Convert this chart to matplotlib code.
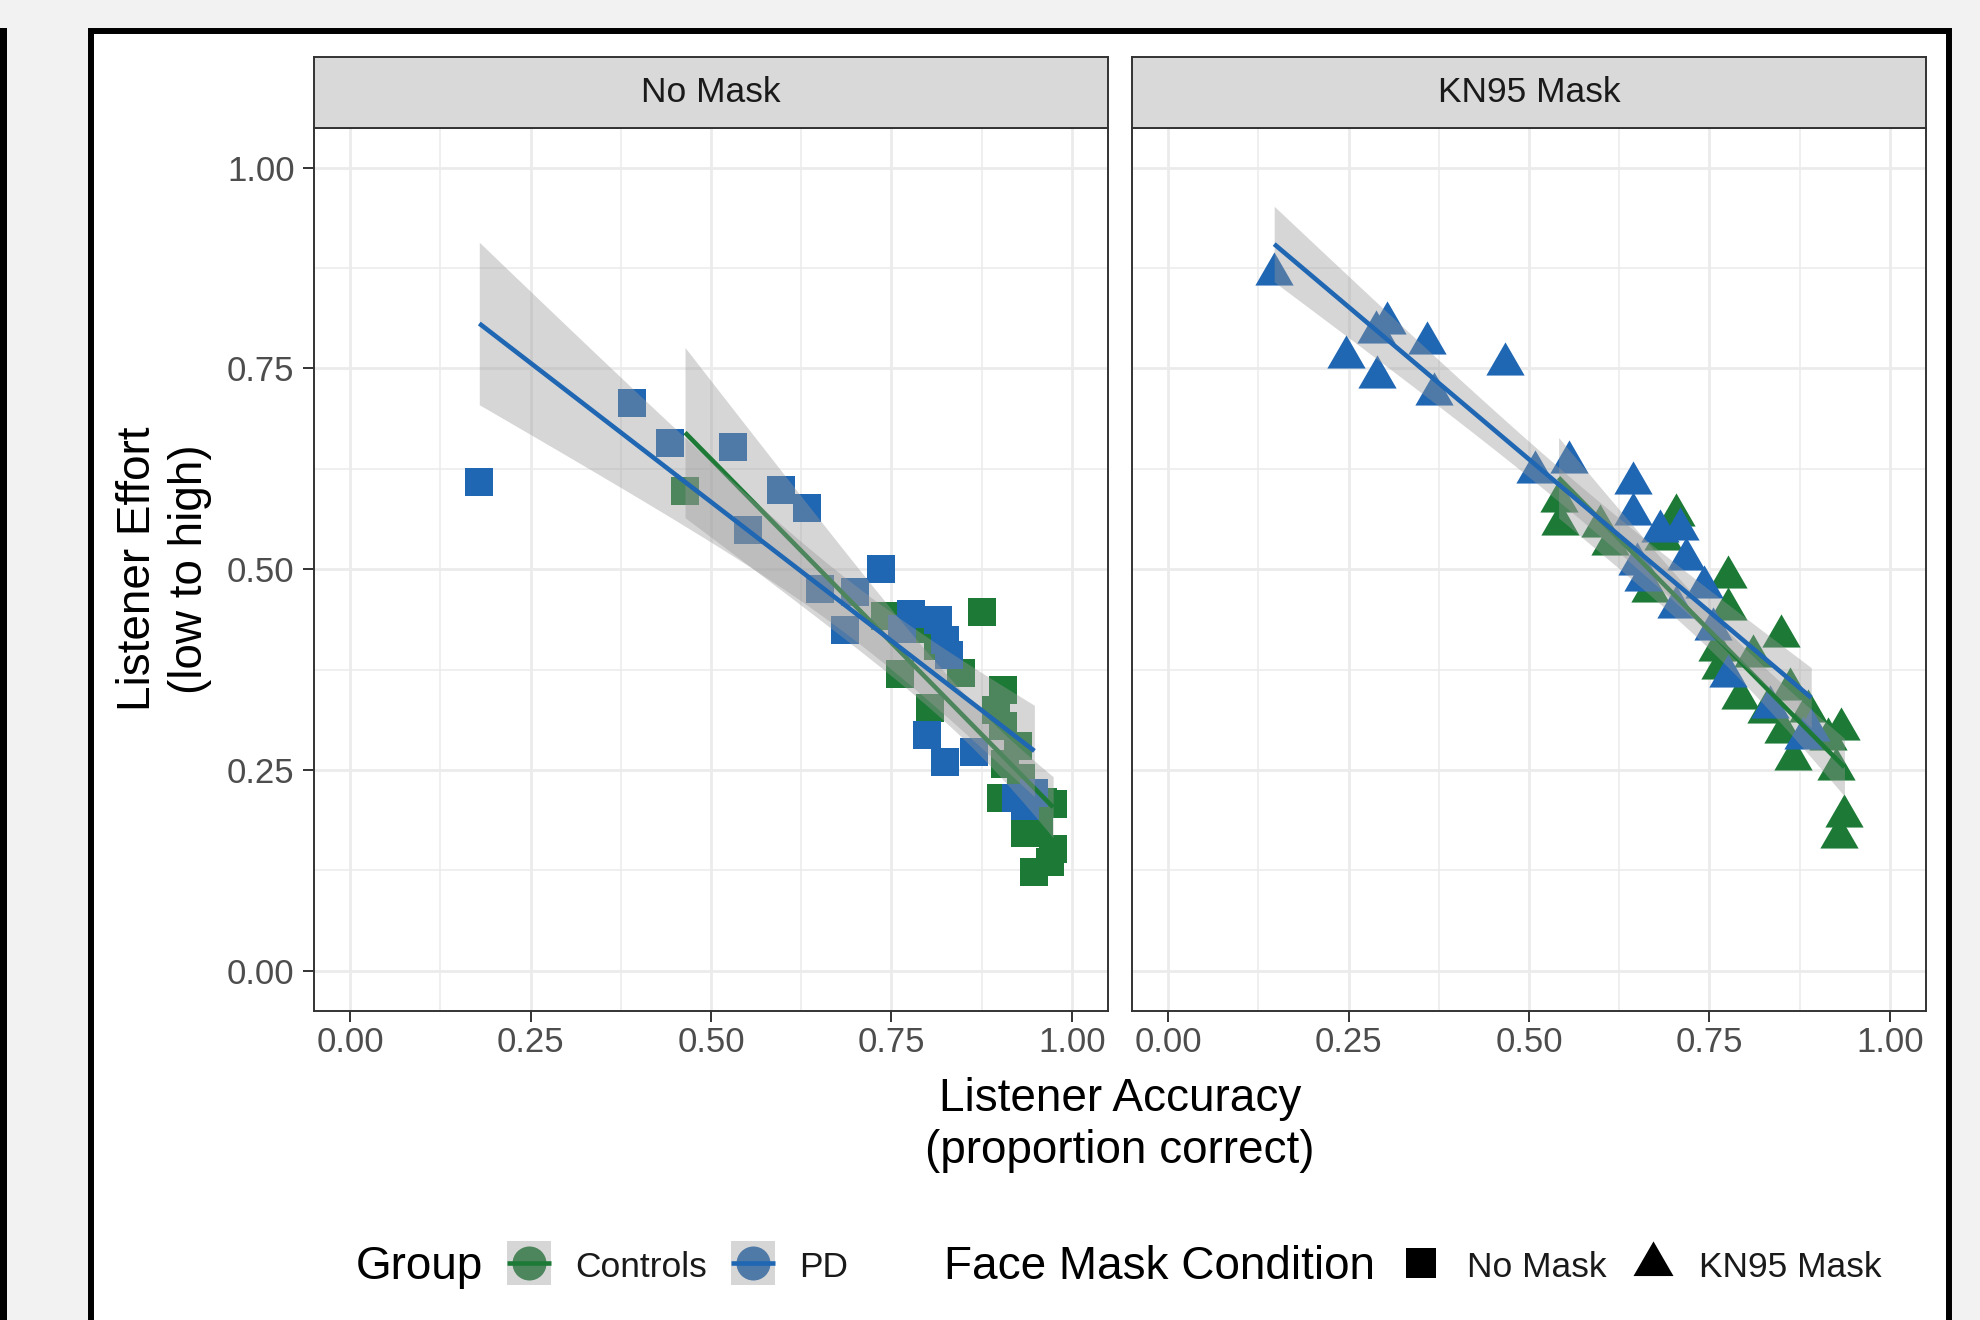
import numpy as np
import matplotlib
matplotlib.use('Agg')
import matplotlib.pyplot as plt
from matplotlib.patches import Rectangle
from matplotlib.path import Path
from matplotlib.markers import MarkerStyle

plt.rcParams['font.family'] = ['Liberation Sans', 'DejaVu Sans']

# ---------------- data ----------------
panel_titles = ['No Mask', 'KN95 Mask']
group_names = ['Controls', 'PD']
group_colors = {'Controls': '#1C7A36', 'PD': '#1F66B3'}

nomask_controls_x = [0.464, 0.741, 0.762, 0.804, 0.847, 0.875, 0.904, 0.895, 0.905, 0.907,
                     0.902, 0.974, 0.935, 0.974, 0.947, 0.969, 0.790, 0.815, 0.930, 0.955,
                     0.960, 0.925]
nomask_controls_y = [0.597, 0.442, 0.370, 0.327, 0.371, 0.447, 0.350, 0.325, 0.305, 0.258,
                     0.215, 0.208, 0.171, 0.152, 0.123, 0.136, 0.425, 0.405, 0.240, 0.180,
                     0.210, 0.280]

nomask_pd_x = [0.179, 0.390, 0.443, 0.531, 0.551, 0.597, 0.633, 0.651, 0.686, 0.699,
               0.736, 0.777, 0.814, 0.824, 0.830, 0.799, 0.824, 0.864, 0.923, 0.948,
               0.765, 0.935]
nomask_pd_y = [0.609, 0.707, 0.657, 0.652, 0.549, 0.599, 0.576, 0.476, 0.424, 0.472,
               0.500, 0.444, 0.437, 0.412, 0.393, 0.294, 0.260, 0.273, 0.215, 0.221,
               0.425, 0.205]

kn95_controls_x = [0.541, 0.543, 0.598, 0.612, 0.668, 0.686, 0.704, 0.760, 0.764, 0.776,
                   0.776, 0.792, 0.811, 0.829, 0.849, 0.852, 0.861, 0.866, 0.886, 0.914,
                   0.932, 0.925, 0.937, 0.930]
kn95_controls_y = [0.585, 0.556, 0.554, 0.532, 0.473, 0.538, 0.567, 0.400, 0.377, 0.490,
                   0.451, 0.340, 0.392, 0.322, 0.417, 0.297, 0.351, 0.264, 0.324, 0.289,
                   0.301, 0.251, 0.193, 0.166]

kn95_pd_x = [0.147, 0.246, 0.288, 0.290, 0.303, 0.358, 0.368, 0.467, 0.508, 0.556,
             0.644, 0.644, 0.649, 0.658, 0.681, 0.704, 0.709, 0.718, 0.742, 0.755,
             0.776, 0.834, 0.880, 0.891]
kn95_pd_y = [0.868, 0.764, 0.795, 0.740, 0.807, 0.782, 0.718, 0.756, 0.621, 0.634,
             0.608, 0.569, 0.506, 0.486, 0.548, 0.453, 0.550, 0.513, 0.478, 0.426,
             0.367, 0.328, 0.290, 0.300]

tick_values = [0.0, 0.25, 0.5, 0.75, 1.0]
tick_labels = ['0.00', '0.25', '0.50', '0.75', '1.00']
minor_values = [0.125, 0.375, 0.625, 0.875]

panel_data = {
    'No Mask': {'Controls': (nomask_controls_x, nomask_controls_y),
                'PD': (nomask_pd_x, nomask_pd_y)},
    'KN95 Mask': {'Controls': (kn95_controls_x, kn95_controls_y),
                  'PD': (kn95_pd_x, kn95_pd_y)},
}

# ---------------- helpers ----------------
def t975(df):
    z = 1.959964
    g1 = (z**3 + z) / 4
    g2 = (5*z**5 + 16*z**3 + 3*z) / 96
    g3 = (3*z**7 + 19*z**5 + 17*z**3 - 15*z) / 384
    return z + g1/df + g2/df**2 + g3/df**3

def lm_band(x, y, n=80):
    x = np.asarray(x); y = np.asarray(y)
    b1, b0 = np.polyfit(x, y, 1)
    xs = np.linspace(x.min(), x.max(), n)
    yh = b0 + b1*xs
    res = y - (b0 + b1*x)
    nn = len(x)
    mse = np.sum(res**2) / (nn - 2)
    sxx = np.sum((x - x.mean())**2)
    se = np.sqrt(mse * (1/nn + (xs - x.mean())**2 / sxx))
    t = t975(nn - 2)
    return xs, yh, yh - t*se, yh + t*se

tri = Path([(0, 0.57735), (-0.5, -0.288675), (0.5, -0.288675), (0, 0.57735)],
           [Path.MOVETO, Path.LINETO, Path.LINETO, Path.CLOSEPOLY])
tri_marker = MarkerStyle(tri)
panel_markers = {'No Mask': ('s', 416), 'KN95 Mask': (tri_marker, 1013)}

# ---------------- figure ----------------
W, H = 1980, 1320
fig = plt.figure(figsize=(W/100, H/100), dpi=100, facecolor='#F2F2F2')

bg = fig.add_axes([0, 0, 1, 1], zorder=0)
bg.set_xlim(0, W); bg.set_ylim(H, 0); bg.axis('off')
bg.add_patch(Rectangle((91, 30.5), 1858, 1400, facecolor='white', edgecolor='black',
                       linewidth=4.3, zorder=0))
bg.add_patch(Rectangle((0, 28), 6.5, 1400, facecolor='black', edgecolor='none', zorder=0))

panel_lefts = [314, 1132]
pw = 794
p_bottom = 1 - 1010.9 / H
p_height = 883.3 / H
s_bottom = 1 - 127.5 / H
s_height = 70.5 / H

for pi, pname in enumerate(panel_titles):
    ax = fig.add_axes([panel_lefts[pi]/W, p_bottom, pw/W, p_height], zorder=2)
    ax.set_xlim(-0.05, 1.05); ax.set_ylim(-0.05, 1.05)
    ax.set_facecolor('white')
    ax.set_xticks(tick_values)
    ax.set_xticklabels(tick_labels)
    ax.set_yticks(tick_values)
    ax.set_xticks(minor_values, minor=True)
    ax.set_yticks(minor_values, minor=True)
    ax.grid(which='major', color='#EBEBEB', linewidth=2.0, zorder=0)
    ax.grid(which='minor', color='#EBEBEB', linewidth=1.1, zorder=0)
    ax.set_axisbelow(True)
    ax.tick_params(which='minor', length=0)
    ax.tick_params(which='major', length=8, width=1.4, color='#333333',
                   labelsize=25, labelcolor='#4D4D4D')
    ax.tick_params(axis='x', pad=3)
    ax.tick_params(axis='y', pad=6)
    if pi == 0:
        ax.set_yticklabels(tick_labels)
    else:
        ax.tick_params(axis='y', which='both', left=False, labelleft=False)
    for sp in ax.spines.values():
        sp.set_color('#333333'); sp.set_linewidth(1.4)

    mk, ms = panel_markers[pname]
    for g in group_names:
        gx, gy = panel_data[pname][g]
        ax.scatter(gx, gy, marker=mk, s=ms, color=group_colors[g], linewidths=0, zorder=2)
    z = 3
    for g in group_names:
        gx, gy = panel_data[pname][g]
        xs, yh, lo, hi = lm_band(gx, gy)
        ax.fill_between(xs, lo, hi, color='#999999', alpha=0.4, linewidth=0, zorder=z)
        ax.plot(xs, yh, color=group_colors[g], linewidth=3.3, zorder=z + 1,
                solid_capstyle='butt')
        z += 2

    sax = fig.add_axes([panel_lefts[pi]/W, s_bottom, pw/W, s_height], zorder=2)
    sax.set_facecolor('#D9D9D9')
    sax.set_xticks([]); sax.set_yticks([])
    for sp in sax.spines.values():
        sp.set_color('#333333'); sp.set_linewidth(1.4)
    sax.text(0.5, 0.5, pname, ha='center', va='center', fontsize=25.5,
             color='#1A1A1A', transform=sax.transAxes)

# axis titles
bg.text(1120, 1111, 'Listener Accuracy', ha='center', va='baseline', fontsize=33, color='black')
bg.text(1120, 1163, '(proportion correct)', ha='center', va='baseline', fontsize=33, color='black')
bg.text(150, 569, 'Listener Effort', rotation=90, rotation_mode='anchor',
        ha='center', va='baseline', fontsize=33, color='black')
bg.text(202, 569, '(low to high)', rotation=90, rotation_mode='anchor',
        ha='center', va='baseline', fontsize=33, color='black')

# legend
ly = 1263
bg.text(356, 1279, 'Group', ha='left', va='baseline', fontsize=33, color='black', zorder=5)
key_boxes = {'Controls': 507, 'PD': 731}
key_text_x = {'Controls': 575, 'PD': 799}
for g in group_names:
    kx = key_boxes[g]
    bg.scatter([kx + 22], [ly], marker='o', s=600, color=group_colors[g], linewidths=0, zorder=5)
    bg.add_patch(Rectangle((kx, ly - 22), 44, 44, facecolor='#999999', alpha=0.4,
                           edgecolor='none', zorder=6))
    bg.plot([kx, kx + 44], [ly, ly], color=group_colors[g], linewidth=3.3, zorder=7,
            solid_capstyle='butt')
    bg.text(key_text_x[g], 1277, g, ha='left', va='baseline', fontsize=25.5,
            color='#1A1A1A', zorder=5)

bg.text(944, 1279, 'Face Mask Condition', ha='left', va='baseline', fontsize=33,
        color='black', zorder=5)
bg.scatter([1420.5], [ly], marker='s', s=467, color='black', linewidths=0, zorder=5)
bg.text(1467, 1277, 'No Mask', ha='left', va='baseline', fontsize=25.5, color='#1A1A1A', zorder=5)
bg.scatter([1653], [1264], marker=tri_marker, s=1107, color='black', linewidths=0, zorder=5)
bg.text(1699, 1277, 'KN95 Mask', ha='left', va='baseline', fontsize=25.5, color='#1A1A1A', zorder=5)

fig.savefig('out.png', dpi=100, facecolor=fig.get_facecolor())
